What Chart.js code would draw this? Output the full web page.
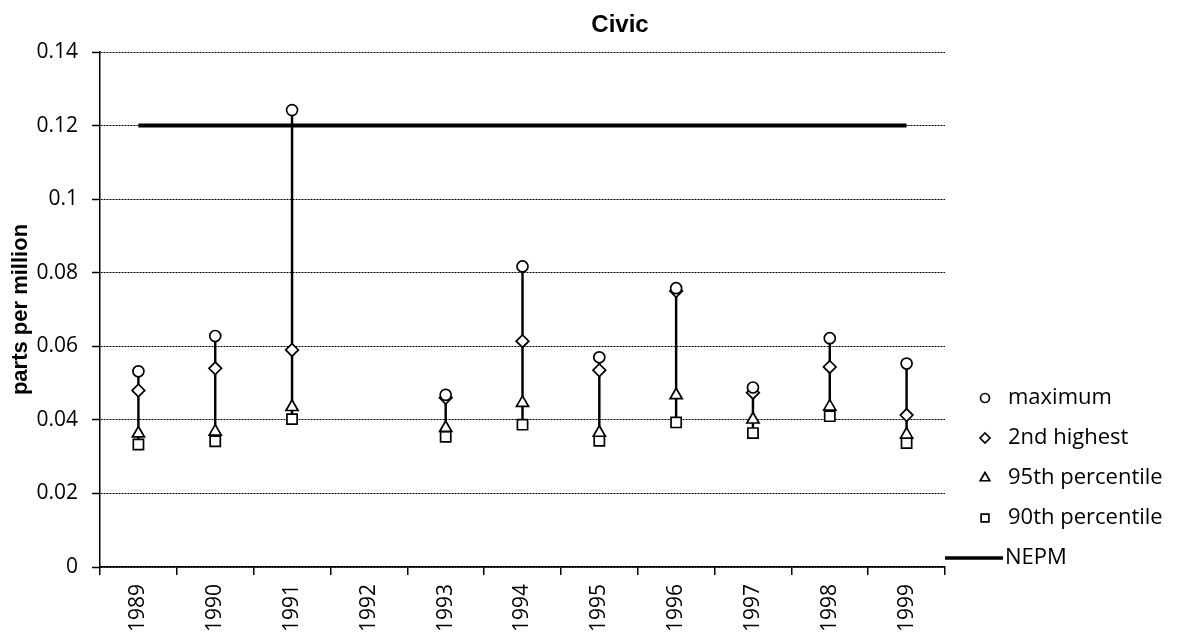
<!DOCTYPE html>
<html>
<head>
<meta charset="utf-8">
<script src="https://cdn.jsdelivr.net/npm/chart.js@4.4.1/dist/chart.umd.min.js"></script>
<style>
  html, body { margin: 0; padding: 0; background: #fff; }
  #wrap { width: 1177px; height: 638px; position: relative; }
</style>
</head>
<body>
<div id="wrap"><canvas id="c" width="1177" height="638"></canvas></div>
<script>
// ---- data ----
const years = ['1989','1990','1991','1992','1993','1994','1995','1996','1997','1998','1999'];
const maximum   = [0.0532, 0.0628, 0.1242, null, 0.0468, 0.0817, 0.0570, 0.0758, 0.0488, 0.0622, 0.0553];
const second    = [0.0480, 0.0540, 0.0590, null, 0.0460, 0.0614, 0.0535, 0.0750, 0.0474, 0.0544, 0.0413];
const pct95     = [0.0363, 0.0368, 0.0435, null, 0.0378, 0.0446, 0.0365, 0.0467, 0.0401, 0.0436, 0.0360];
const pct90     = [0.0333, 0.0342, 0.0402, null, 0.0354, 0.0387, 0.0343, 0.0393, 0.0364, 0.0410, 0.0337];
const nepm      = [0.12, 0.12, 0.12, 0.12, 0.12, 0.12, 0.12, 0.12, 0.12, 0.12, 0.12];
const yTickLabels = ['0', '0.02', '0.04', '0.06', '0.08', '0.1', '0.12', '0.14'];
const seriesNames = ['maximum', '2nd highest', '95th percentile', '90th percentile', 'NEPM'];
const chartTitle = 'Civic';
const yAxisTitle = 'parts per million';

// high-low ranges built from the series
const ranges = years.map((_, i) => {
  const vals = [maximum[i], second[i], pct95[i], pct90[i]].filter(v => v !== null);
  return vals.length ? [Math.min(...vals), Math.max(...vals)] : null;
});

const FONT = '"Open Sans", "DejaVu Sans", sans-serif';

const markerDs = (label, data, style, radius) => ({
  type: 'line', label, data, showLine: false,
  pointStyle: style, pointRadius: radius, pointHoverRadius: radius,
  pointBackgroundColor: '#fff', pointBorderColor: '#000', pointBorderWidth: 1.7,
  order: 1
});

const titleAndLegend = {
  id: 'titleAndLegend',
  afterDraw(chart) {
    const ctx = chart.ctx;
    ctx.save();
    // title
    ctx.fillStyle = '#000';
    ctx.font = 'bold 24px "Liberation Sans", Arial, sans-serif';
    ctx.textAlign = 'center';
    ctx.textBaseline = 'middle';
    ctx.fillText(chartTitle, 620, 25);

    // legend
    const styles = ['circle', 'rectRot', 'triangle', 'rect'];
    const radii = [4.5, 5, 5.5, 5.5];
    const y0 = 398, dy = 40, mx = 985, tx = 1008;
    ctx.font = '22px ' + FONT;
    ctx.textAlign = 'left';
    for (let i = 0; i < 4; i++) {
      const y = y0 + i * dy;
      ctx.fillStyle = '#fff';
      ctx.strokeStyle = '#000';
      ctx.lineWidth = 1.7;
      Chart.helpers.drawPoint(ctx, { pointStyle: styles[i], radius: radii[i], borderWidth: 1.7, rotation: 0 }, mx, y);
      ctx.fillStyle = '#000';
      ctx.fillText(seriesNames[i], tx, y);
    }
    const yl = y0 + 4 * dy;
    ctx.strokeStyle = '#000';
    ctx.lineWidth = 3.5;
    ctx.beginPath();
    ctx.moveTo(945, yl);
    ctx.lineTo(1003, yl);
    ctx.stroke();
    ctx.fillStyle = '#000';
    ctx.fillText(seriesNames[4], 1005, yl);
    ctx.restore();
  }
};

new Chart(document.getElementById('c'), {
  data: {
    labels: years,
    datasets: [
      {
        type: 'bar', label: 'range', data: ranges,
        backgroundColor: '#000', borderWidth: 0, barThickness: 1.8,
        order: 10
      },
      {
        type: 'line', label: seriesNames[4], data: nepm,
        borderColor: '#000', borderWidth: 4, pointRadius: 0, pointHoverRadius: 0,
        fill: false, tension: 0, order: 5
      },
      markerDs(seriesNames[0], maximum, 'circle', 5.5),
      markerDs(seriesNames[1], second, 'rectRot', 6.3),
      markerDs(seriesNames[2], pct95, 'triangle', 7),
      markerDs(seriesNames[3], pct90, 'rect', 7.2)
    ]
  },
  options: {
    responsive: false,
    animation: false,
    events: [],
    layout: { padding: { top: 52, right: 232, left: 0, bottom: 0 } },
    plugins: { legend: { display: false }, title: { display: false }, tooltip: { enabled: false } },
    scales: {
      x: {
        type: 'category',
        offset: true,
        grid: {
          display: true, drawOnChartArea: false, drawTicks: true, tickLength: 8,
          offset: true, color: '#000', lineWidth: 1.5
        },
        border: { display: true, color: '#000', width: 1.5 },
        ticks: {
          color: '#000', font: { family: FONT, size: 21 },
          minRotation: 90, maxRotation: 90, padding: 9, autoSkip: false
        },
        afterFit(scale) { scale.height = 71; }
      },
      y: {
        type: 'linear',
        min: 0, max: 0.14,
        ticks: {
          stepSize: 0.02, color: '#000', font: { family: FONT, size: 21 }, padding: 14,
          callback: (v, i) => yTickLabels[i]
        },
        grid: {
          color: '#000', lineWidth: 1, tickLength: 8, tickBorderDash: [], tickWidth: 1.5
        },
        border: { display: true, color: '#000', width: 1.5, dash: [2, 1] },
        title: {
          display: true, text: yAxisTitle, color: '#000',
          font: { family: '"Liberation Sans", Arial, sans-serif', size: 22, weight: 'bold' },
          padding: { top: 8, bottom: 0 }
        },
        afterFit(scale) { scale.width = 100; }
      }
    }
  },
  plugins: [titleAndLegend]
});
</script>
</body>
</html>
